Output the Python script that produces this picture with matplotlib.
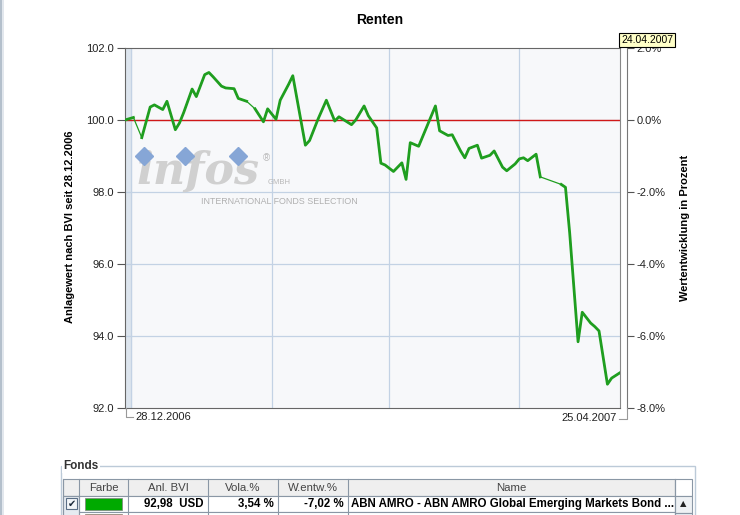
import numpy as np
import pandas as pd
import matplotlib.pyplot as plt
from matplotlib.patches import Rectangle

# Data (days after 28.12.2006, index value)
start_date = "2006-12-28"
end_date = "2007-04-25"
day_offsets = [0, 2, 4, 6, 7, 9, 10, 12, 13, 14,
               16, 17, 19, 20, 21, 23, 24, 26, 27, 29,
               31, 33, 34, 36, 37, 39, 40, 43, 44, 46,
               48, 50, 51, 54, 55, 57, 58, 60, 61, 62,
               64, 66, 67, 68, 70, 74, 75, 77, 78, 80,
               81, 82, 84, 85, 87, 88, 90, 91, 93, 94,
               95, 96, 98, 99, 104, 105, 106, 108, 109, 111,
               112, 113, 115, 116, 118]
values = [100.00, 100.07, 99.51, 100.36, 100.42, 100.29, 100.52, 99.73, 99.92, 100.21,
          100.86, 100.65, 101.26, 101.32, 101.20, 100.94, 100.89, 100.87, 100.60, 100.52,
          100.31, 99.95, 100.31, 100.02, 100.55, 100.99, 101.23, 99.30, 99.43, 100.02,
          100.55, 99.97, 100.09, 99.87, 100.00, 100.39, 100.12, 99.78, 98.80, 98.75,
          98.57, 98.81, 98.35, 99.37, 99.27, 100.39, 99.70, 99.57, 99.59, 99.14,
          98.95, 99.21, 99.30, 98.94, 99.02, 99.14, 98.69, 98.59, 98.78, 98.92,
          98.95, 98.87, 99.05, 98.42, 98.21, 98.13, 96.87, 93.84, 94.66, 94.36,
          94.26, 94.14, 92.66, 92.83, 92.98]
gap_after = [1, 19, 63]          # thin connector across missing quotes
month_lines = ["2007-02-01", "2007-03-01", "2007-04-01"]
left_ticks = [92, 94, 96, 98, 100, 102]
right_ticks = [-8, -6, -4, -2, 0, 2]

table_header = ["", "Farbe", "Anl. BVI", "Vola.%", "W.entw.%", "Name"]
table_row = ["", "", "92,98  USD", "3,54 %", "-7,02 %",
             "ABN AMRO - ABN AMRO Global Emerging Markets Bond ..."]
col_edges = [63, 79, 128, 208, 278, 348, 675]

plt.rcParams['font.family'] = ['Liberation Sans', 'DejaVu Sans']

W, H = 740, 515
fig = plt.figure(figsize=(W / 100, H / 100), dpi=100)
fig.patch.set_facecolor("white")

ax = fig.add_axes([125 / W, 1 - 408 / H, 495 / W, 360 / H])
ov = fig.add_axes([0, 0, 1, 1], zorder=5)
ov.set_xlim(0, W)
ov.set_ylim(H, 0)
ov.axis("off")
ov.patch.set_alpha(0)

t0 = pd.Timestamp(start_date)
dates = t0 + pd.to_timedelta(day_offsets, unit="D")
vals = np.array(values)

ax.set_facecolor("#f7f8fa")
ax.set_xlim(t0, pd.Timestamp(end_date))
ax.set_ylim(left_ticks[0], left_ticks[-1])

strip_end = t0 + pd.Timedelta(hours=34)
ax.axvspan(t0, strip_end, color="#dde5ee", zorder=0)
for d in [strip_end] + list(pd.to_datetime(month_lines)):
    ax.axvline(d, color="#c3d2e4", lw=0.9, zorder=1)
for v in left_ticks[1:-1]:
    ax.axhline(v, color="#c3d2e4", lw=0.9, zorder=1)
ax.axhline(100, color="#d01818", lw=1.0, zorder=2)

# watermark logo
ax.plot([144, 185, 238], [156, 156, 156], "D", ms=9, color="#86a6d6",
        transform=ov.transData, zorder=1.5)
ax.text(136, 184, "infos", transform=ov.transData, fontsize=32, family="DejaVu Serif",
        weight="bold", style="italic", color="#d0d0d0", va="baseline", zorder=1.4)
ax.text(263, 158, "®", transform=ov.transData, fontsize=7, color="#b8b8b8",
        va="center", zorder=1.4)
ax.text(268, 183, "GMBH", transform=ov.transData, fontsize=5.5, color="#b8b8b8",
        va="center", zorder=1.4)
ax.text(201, 201, "INTERNATIONAL FONDS SELECTION", transform=ov.transData, fontsize=6.4,
        color="#b0b0b0", va="center", zorder=1.4)

# series: thin everywhere, thick where quotes are continuous
ax.plot(dates, vals, color="#1f9e1f", lw=0.9, zorder=3)
bounds = [0] + [g + 1 for g in gap_after] + [len(vals)]
for a, b in zip(bounds[:-1], bounds[1:]):
    ax.plot(dates[a:b], vals[a:b], color="#1f9e1f", lw=2.0, zorder=4)

for s in ax.spines.values():
    s.set_color("#666666")
ax.spines["right"].set_color("#888888")
ax.set_xticks([])
ax.set_yticks(left_ticks)
ax.set_yticklabels([f"{v:.1f}" for v in left_ticks])
ax.tick_params(axis="y", direction="out", length=6, width=0.8, color="#555555",
               labelsize=8, pad=2, labelcolor="#222222")

ax2 = ax.twinx()
ax2.set_ylim(right_ticks[0], right_ticks[-1])
ax2.set_yticks(right_ticks)
ax2.set_yticklabels([f"{v:.1f}%" for v in right_ticks])
for side in ["left", "top", "bottom"]:
    ax2.spines[side].set_visible(False)
ax2.spines["right"].set_position(("outward", 5))
ax2.spines["right"].set_color("#777777")
ax2.tick_params(axis="y", direction="out", length=5, width=0.8, color="#555555",
                labelsize=8, pad=2, labelcolor="#222222")

# date brackets under the plot
ov.plot([126, 126, 133], [408, 417, 417], color="#999999", lw=0.8)
ov.plot([627, 627, 619], [408, 419, 419], color="#999999", lw=0.8)
ov.text(135, 417, t0.strftime("%d.%m.%Y"), fontsize=8, va="center", ha="left", color="#222222")
ov.text(617, 418, pd.Timestamp(end_date).strftime("%d.%m.%Y"), fontsize=8, va="center",
        ha="right", color="#222222")

ov.text(380, 20, "Renten", fontsize=10, weight="bold", ha="center", va="center")
ov.text(70, 227, "Anlagewert nach BVI seit 28.12.2006", fontsize=8, weight="bold",
        rotation=90, ha="center", va="center")
ov.text(685, 228, "Wertentwicklung in Prozent", fontsize=8, weight="bold",
        rotation=90, ha="center", va="center")
ov.text(647, 40, "24.04.2007", fontsize=7.5, ha="center", va="center",
        bbox=dict(boxstyle="square,pad=0.15", fc="#ffffc8", ec="black", lw=0.8))

# window border
ov.plot([1, 1], [0, H], color="#b4c0cc", lw=1.5)
ov.plot([3, 3], [0, H], color="#dde3ea", lw=1.2)

# fund table
ov.add_patch(Rectangle((61, 466), 634, 70, fc="none", ec="#bccad8", lw=1))
ov.text(63, 466, "Fonds", fontsize=8.5, weight="bold", va="center", ha="left",
        color="#333333", bbox=dict(fc="white", ec="none", pad=1))
ov.add_patch(Rectangle((63, 479), 612, 17, fc="#efefef", ec="#8a97a5", lw=0.8))
ov.add_patch(Rectangle((63, 496), 612, 16, fc="white", ec="#8a97a5", lw=0.8))
ov.add_patch(Rectangle((63, 512), 612, 10, fc="white", ec="#8a97a5", lw=0.8))
ov.add_patch(Rectangle((63, 496), 16, 30, fc="#e6ebf1", ec="#8a97a5", lw=0.8))
for x in col_edges:
    ov.plot([x, x], [479, H], color="#8a97a5", lw=0.8)
for i, lab in enumerate(table_header):
    xc = (col_edges[i] + col_edges[i + 1]) / 2
    ov.text(xc, 488, lab, fontsize=8.2, ha="center", va="center", color="#444444")
for i, lab in enumerate(table_row):
    if not lab:
        continue
    if i == len(table_row) - 1:
        ov.text(col_edges[i] + 3, 504, lab, fontsize=8.3, weight="bold", ha="left", va="center")
    else:
        ov.text(col_edges[i + 1] - 4, 504, lab, fontsize=8.3, weight="bold", ha="right", va="center")
ov.add_patch(Rectangle((66, 498), 11, 11, fc="#f2f5f8", ec="#5a6e85", lw=0.8))
ov.text(71.5, 504, "✔", fontsize=7, ha="center", va="center", color="#1c2a3a",
        family="DejaVu Sans")
ov.add_patch(Rectangle((85, 498), 37, 12, fc="#00aa00", ec="#808080", lw=0.5))
ov.add_patch(Rectangle((85, 514), 37, 8, fc="#e8963a", ec="#808080", lw=0.5))
ov.add_patch(Rectangle((675, 479), 17, 17, fc="white", ec="#8a97a5", lw=0.8))
ov.add_patch(Rectangle((675, 496), 17, 17, fc="#eef1f4", ec="#8a97a5", lw=0.8))
ov.add_patch(Rectangle((675, 513), 17, 10, fc="#e6ebf1", ec="#8a97a5", lw=0.8))
ov.text(683.5, 504, "▲", fontsize=6, ha="center", va="center", color="#222222",
        family="DejaVu Sans")

fig.savefig("out.png", dpi=100)
